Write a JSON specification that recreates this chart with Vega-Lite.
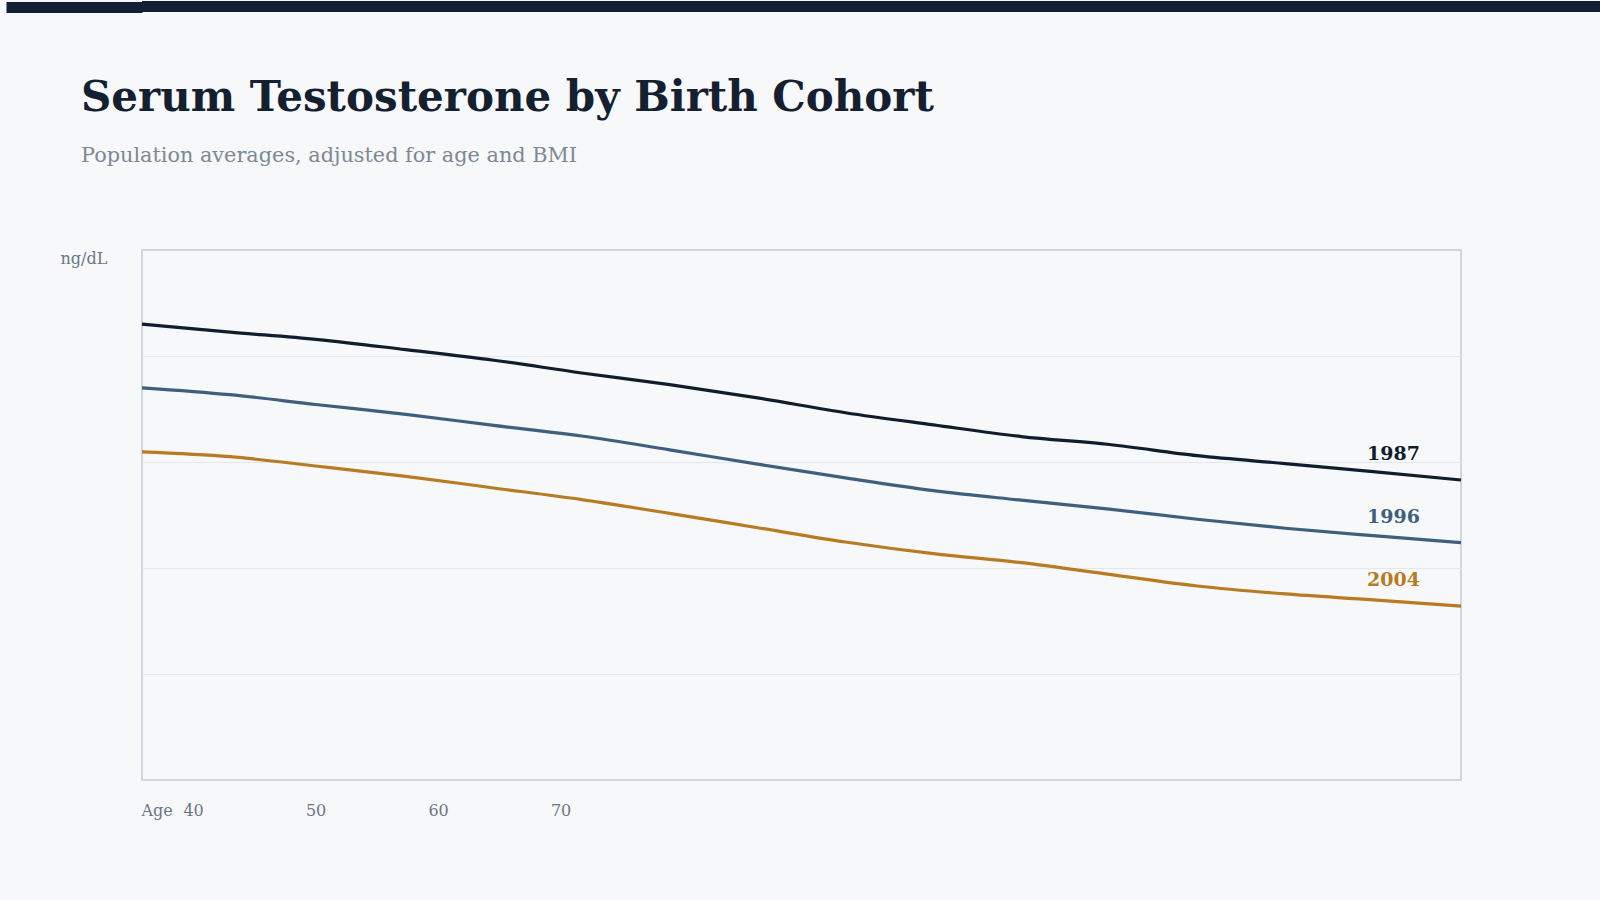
{
  "$schema": "https://vega.github.io/schema/vega-lite/v6.json",
  "description": "Serum testosterone by birth cohort",
  "background": "#f6f8fa",
  "padding": {"left": 0, "top": 0, "right": 0, "bottom": 81},
  "spacing": 63,
  "config": {
    "font": "DejaVu Serif",
    "view": {"stroke": "#cfd6dc", "strokeWidth": 2}
  },
  "vconcat": [
    {
      "width": 1459,
      "height": 11,
      "view": {"fill": "#112033", "stroke": null},
      "data": {"values": [{"band": 0.5}]},
      "mark": {"type": "text"},
      "encoding": {
        "text": {"value": ""},
        "y": {
          "field": "band",
          "type": "quantitative",
          "scale": {"domain": [0, 1]},
          "axis": {
            "values": [0.5],
            "title": null,
            "labels": false,
            "domain": false,
            "grid": false,
            "ticks": true,
            "tickSize": 136,
            "tickWidth": 11,
            "tickColor": "#112033",
            "tickCap": "butt",
            "minExtent": 0
          }
        }
      }
    },
    {
      "width": 1319,
      "height": 530,
      "title": {
        "text": "Serum Testosterone by Birth Cohort",
        "subtitle": "Population averages, adjusted for age and BMI",
        "anchor": "start",
        "frame": "group",
        "dx": -61,
        "offset": 83,
        "font": "DejaVu Serif",
        "fontSize": 42,
        "fontWeight": "bold",
        "color": "#142030",
        "subtitleFont": "DejaVu Serif",
        "subtitleFontSize": 20.8,
        "subtitleColor": "#7d8896",
        "subtitlePadding": 26
      },
      "data": {
        "values": [
          {"age": 40, "cohort": "1987", "value": 860},
          {"age": 42, "cohort": "1987", "value": 845},
          {"age": 44, "cohort": "1987", "value": 831},
          {"age": 46, "cohort": "1987", "value": 812},
          {"age": 48, "cohort": "1987", "value": 792},
          {"age": 50, "cohort": "1987", "value": 768},
          {"age": 52, "cohort": "1987", "value": 746},
          {"age": 54, "cohort": "1987", "value": 721},
          {"age": 56, "cohort": "1987", "value": 693},
          {"age": 58, "cohort": "1987", "value": 670},
          {"age": 60, "cohort": "1987", "value": 648},
          {"age": 62, "cohort": "1987", "value": 633},
          {"age": 64, "cohort": "1987", "value": 612},
          {"age": 66, "cohort": "1987", "value": 597},
          {"age": 68, "cohort": "1987", "value": 582},
          {"age": 70, "cohort": "1987", "value": 566},
          {"age": 40, "cohort": "1996", "value": 740},
          {"age": 42, "cohort": "1996", "value": 727},
          {"age": 44, "cohort": "1996", "value": 708},
          {"age": 46, "cohort": "1996", "value": 690},
          {"age": 48, "cohort": "1996", "value": 669},
          {"age": 50, "cohort": "1996", "value": 649},
          {"age": 52, "cohort": "1996", "value": 623},
          {"age": 54, "cohort": "1996", "value": 596},
          {"age": 56, "cohort": "1996", "value": 570},
          {"age": 58, "cohort": "1996", "value": 546},
          {"age": 60, "cohort": "1996", "value": 528},
          {"age": 62, "cohort": "1996", "value": 511},
          {"age": 64, "cohort": "1996", "value": 492},
          {"age": 66, "cohort": "1996", "value": 475},
          {"age": 68, "cohort": "1996", "value": 461},
          {"age": 70, "cohort": "1996", "value": 448},
          {"age": 40, "cohort": "2004", "value": 619},
          {"age": 42, "cohort": "2004", "value": 610},
          {"age": 44, "cohort": "2004", "value": 592},
          {"age": 46, "cohort": "2004", "value": 573},
          {"age": 48, "cohort": "2004", "value": 551},
          {"age": 50, "cohort": "2004", "value": 529},
          {"age": 52, "cohort": "2004", "value": 503},
          {"age": 54, "cohort": "2004", "value": 476},
          {"age": 56, "cohort": "2004", "value": 449},
          {"age": 58, "cohort": "2004", "value": 427},
          {"age": 60, "cohort": "2004", "value": 410},
          {"age": 62, "cohort": "2004", "value": 388},
          {"age": 64, "cohort": "2004", "value": 366},
          {"age": 66, "cohort": "2004", "value": 351},
          {"age": 68, "cohort": "2004", "value": 340},
          {"age": 70, "cohort": "2004", "value": 328}
        ]
      },
      "layer": [
        {
          "mark": {"type": "line", "strokeWidth": 3.2, "interpolate": "monotone"},
          "encoding": {
            "x": {
              "field": "age",
              "type": "quantitative",
              "scale": {"domain": [40, 70]},
              "axis": null
            },
            "y": {
              "field": "value",
              "type": "quantitative",
              "scale": {"domain": [0, 1000]},
              "axis": {
                "title": "ng/dL",
                "values": [200, 400, 600, 800],
                "labels": false,
                "ticks": false,
                "domain": false,
                "grid": true,
                "gridColor": "#e4e8ec",
                "gridWidth": 1,
                "minExtent": 141,
                "titleAngle": 0,
                "titleX": -82,
                "titleY": 13,
                "titleAlign": "left",
                "titleBaseline": "alphabetic",
                "titleFont": "DejaVu Serif",
                "titleFontSize": 16,
                "titleFontWeight": "normal",
                "titleColor": "#6b7685"
              }
            },
            "color": {
              "field": "cohort",
              "type": "nominal",
              "scale": {
                "domain": ["1987", "1996", "2004"],
                "range": ["#0f1d2c", "#3e5f7e", "#b87a22"]
              },
              "legend": null
            }
          }
        },
        {
          "transform": [{"filter": "datum.age == 70"}],
          "mark": {
            "type": "text",
            "align": "left",
            "baseline": "alphabetic",
            "dx": -94,
            "dy": -20,
            "fontSize": 19,
            "fontWeight": "bold"
          },
          "encoding": {
            "x": {
              "field": "age",
              "type": "quantitative",
              "scale": {"domain": [40, 70]},
              "axis": null
            },
            "y": {"field": "value", "type": "quantitative"},
            "color": {"field": "cohort", "type": "nominal", "legend": null},
            "text": {"field": "cohort"}
          }
        },
        {
          "data": {"values": [{"tick": 40}, {"tick": 50}, {"tick": 60}, {"tick": 70}]},
          "mark": {"type": "tick", "opacity": 0},
          "encoding": {
            "x": {
              "field": "tick",
              "type": "quantitative",
              "scale": {"domain": [35.83, 143.5]},
              "axis": {
                "orient": "bottom",
                "values": [40, 50, 60, 70],
                "format": "d",
                "title": "Age",
                "grid": false,
                "ticks": false,
                "tickSize": 0,
                "domain": false,
                "labelPadding": 35,
                "labelBaseline": "alphabetic",
                "labelFont": "DejaVu Serif",
                "labelFontSize": 16,
                "labelColor": "#6b7685",
                "labelFlush": false,
                "titleX": -1,
                "titleY": 35,
                "titleAlign": "left",
                "titleBaseline": "alphabetic",
                "titleFont": "DejaVu Serif",
                "titleFontSize": 16,
                "titleFontWeight": "normal",
                "titleColor": "#6b7685"
              }
            }
          }
        }
      ],
      "resolve": {"scale": {"x": "independent"}}
    }
  ]
}
